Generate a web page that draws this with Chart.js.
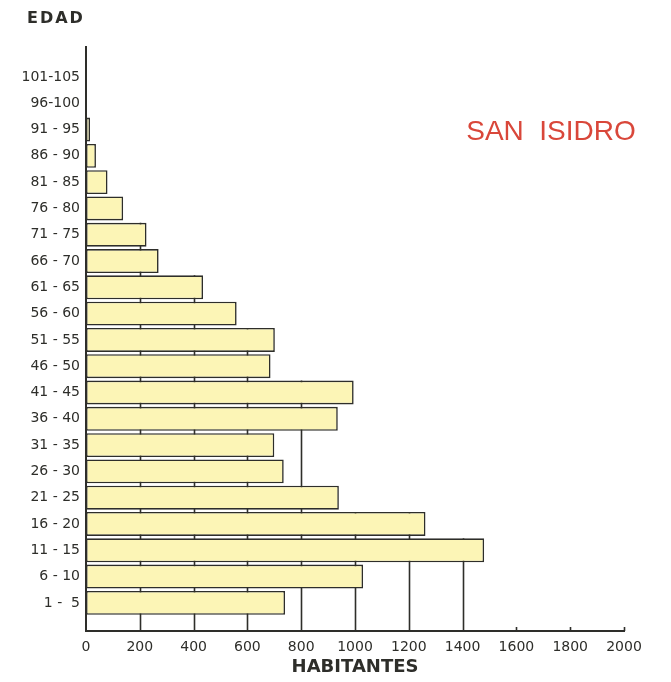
<!DOCTYPE html>
<html lang="es">
<head>
<meta charset="utf-8">
<title>San Isidro - Habitantes por edad</title>
<script src="https://cdn.jsdelivr.net/npm/chart.js@4"></script>
<style>
  html, body { margin: 0; padding: 0; background: #ffffff; }
  canvas { display: block; }
</style>
</head>
<body>
<canvas id="piramide" width="671" height="682"></canvas>
<script>
// grupos de edad, de abajo hacia arriba
const edades = ["1 -  5", "6 - 10", "11 - 15", "16 - 20", "21 - 25", "26 - 30", "31 - 35",
  "36 - 40", "41 - 45", "46 - 50", "51 - 55", "56 - 60", "61 - 65", "66 - 70",
  "71 - 75", "76 - 80", "81 - 85", "86 - 90", "91 - 95", "96-100", "101-105"];

const habitantes = [740, 1030, 1480, 1262, 940, 735, 700,
  936, 995, 686, 702, 560, 435, 270,
  225, 138, 80, 37, 15, 0, 0];

const ticksHabitantes = [0, 200, 400, 600, 800, 1000, 1200, 1400, 1600, 1800, 2000];

const inkColor = "#2e2e2a";
const barFill = "#fcf5b6";

// lineas verticales que solo suben hasta la barra mas alta que las cruza
const gridPlugin = {
  id: "stubGrid",
  beforeDatasetsDraw(chart) {
    const { ctx, chartArea, scales: { x } } = chart;
    const meta = chart.getDatasetMeta(0);
    ctx.save();
    ctx.strokeStyle = inkColor;
    ctx.lineWidth = 1.6;
    ticksHabitantes.forEach(v => {
      if (v === 0) return;
      let top = null;
      habitantes.forEach((h, i) => {
        if (h >= v) {
          const bar = meta.data[i].getProps(["y", "height"], true);
          const barTop = bar.y - bar.height / 2;
          if (top === null || barTop < top) top = barTop;
        }
      });
      const px = Math.round(x.getPixelForValue(v)) + 0.5;
      const y0 = chartArea.bottom;
      const y1 = top === null ? y0 - 4 : top;
      ctx.beginPath();
      ctx.moveTo(px, y0);
      ctx.lineTo(px, y1);
      ctx.stroke();
    });
    ctx.restore();
  }
};

// textos sueltos: EDAD y el nombre del distrito
const textPlugin = {
  id: "extraText",
  afterDraw(chart) {
    const ctx = chart.ctx;
    ctx.save();
    ctx.textBaseline = "middle";
    ctx.fillStyle = inkColor;
    ctx.font = "bold 16px 'DejaVu Sans'";
    ctx.letterSpacing = "2px";
    ctx.textAlign = "left";
    ctx.fillText("EDAD", 27, 19);
    ctx.letterSpacing = "0px";
    ctx.fillStyle = "#d9473a";
    ctx.font = "28px 'Liberation Sans'";
    ctx.textAlign = "center";
    ctx.fillText("SAN  ISIDRO", 551, 132);
    ctx.restore();
  }
};

const ctx = document.getElementById("piramide").getContext("2d");

new Chart(ctx, {
  type: "bar",
  data: {
    datasets: [{
      label: "Habitantes",
      data: habitantes.map((h, i) => ({ x: h, y: i })),
      backgroundColor: barFill,
      borderColor: inkColor,
      borderWidth: 1.6,
      borderSkipped: false,
      barPercentage: 0.91,
      categoryPercentage: 1
    }]
  },
  options: {
    indexAxis: "y",
    responsive: false,
    maintainAspectRatio: false,
    animation: false,
    layout: { padding: { top: 47, right: 47, bottom: 0, left: 0 } },
    plugins: {
      legend: { display: false },
      tooltip: { enabled: false }
    },
    scales: {
      x: {
        type: "linear",
        min: 0,
        max: 2000,
        grid: { display: false, drawTicks: false },
        border: { display: true, color: inkColor, width: 2 },
        afterBuildTicks: scale => { scale.ticks = ticksHabitantes.map(v => ({ value: v })); },
        afterFit: scale => { scale.height = 51; },
        ticks: {
          padding: 8,
          color: inkColor,
          font: { family: "DejaVu Sans", size: 14 },
          maxRotation: 0,
          autoSkip: false,
          callback: v => String(v)
        },
        title: {
          display: true,
          text: "HABITANTES",
          color: inkColor,
          font: { family: "DejaVu Sans", size: 18, weight: "bold" },
          padding: { top: 0, bottom: 4 }
        }
      },
      y: {
        type: "linear",
        offset: false,
        min: -1.07,
        max: 21.14,
        grid: { display: false, drawTicks: false, offset: false },
        border: { display: true, color: inkColor, width: 2 },
        afterFit: scale => { scale.width = 86; },
        ticks: {
          stepSize: 1,
          maxTicksLimit: 40,
          autoSkip: false,
          padding: 6,
          color: inkColor,
          font: { family: "DejaVu Sans", size: 14 },
          callback: v => (Number.isInteger(v) && edades[v] !== undefined ? edades[v] : "")
        }
      }
    }
  },
  plugins: [gridPlugin, textPlugin]
});
</script>
</body>
</html>
